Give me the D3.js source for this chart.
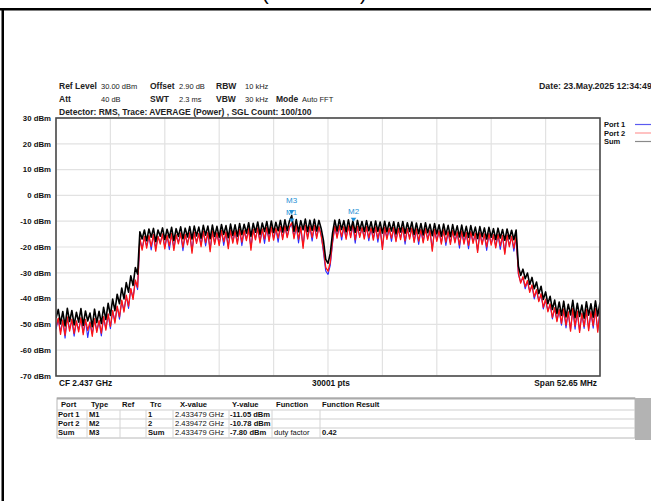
<!DOCTYPE html>
<html lang="en">
<head>
<meta charset="UTF-8">
<title>Spectrum</title>
<script src="https://d3js.org/d3.v7.min.js"></script>
<style>
  body { margin: 0; background: #fff; font-family: "Liberation Sans", Arial, sans-serif; }
  svg { display: block; }
  .grid line { stroke: #e2e2e2; stroke-width: 1.2; }
  .axlbl { font-size: 7.8px; font-weight: bold; fill: #111; }
  .hdr { font-size: 7.5px; fill: #222; }
  .hdr .b { font-size: 8.5px; }
  .b { font-weight: bold; }
  .tbl { font-size: 7.6px; fill: #111; }
  .mk { fill: #1f8fd6; font-size: 8px; }
</style>
</head>
<body>
<svg id="chart" width="651" height="501"></svg>
<script>
// sweep settings
const centerGHz = 2.437;
const spanGHz = 0.05265;
const yTicks = [30, 20, 10, 0, -10, -20, -30, -40, -50, -60, -70];

// traces (dBm), evenly spread over the span
const port1 = [
  -51.9, -48.0, -52.8, -48.6, -55.3, -47.5, -51.8, -48.4, -54.6, -48.9, -52.1, -47.8, -53.2, -48.5, -55.1, -49.3, -53.7, -48.2, -52.4, -48.8,
  -54.5, -47.3, -51.6, -46.2, -51.7, -44.9, -48.8, -43.2, -48.0, -40.9, -44.6, -39.0, -43.8, -36.3, -39.7, -33.1, -36.5, -16.9, -20.6, -16.2,
  -19.6, -15.8, -21.1, -15.4, -20.5, -16.1, -18.3, -15.2, -19.9, -15.7, -21.0, -15.0, -20.4, -15.5, -18.1, -14.8, -21.4, -15.3, -18.6, -14.7,
  -21.5, -14.5, -18.0, -15.0, -19.1, -14.2, -19.6, -14.6, -20.9, -14.1, -18.4, -14.7, -18.8, -13.9, -19.4, -14.4, -19.8, -13.7, -17.9, -14.0,
  -18.2, -13.5, -19.5, -13.9, -16.9, -13.2, -20.3, -13.4, -16.8, -12.9, -17.7, -13.3, -18.6, -12.7, -17.1, -12.5, -16.7, -13.0, -18.1, -12.3,
  -16.5, -12.1, -15.9, -12.5, -11.05, -16.2, -12.0, -18.4, -12.4, -19.7, -11.8, -16.3, -12.2, -17.7, -11.9, -16.1, -12.3, -15.3,
  -22.2, -29.3, -30.6, -27.1, -18.6,
  -12.2, -16.0, -12.0, -17.3, -12.4, -16.4, -12.1, -15.9, -11.6, -18.5, -12.3, -15.8, -12.7, -16.3, -12.4, -17.6, -12.8,
  -16.7, -12.5, -18.1, -12.9, -20.2, -12.6, -16.4, -13.0, -17.8, -12.8, -17.3, -13.1, -16.5, -12.7, -18.9, -13.2, -16.3, -12.9, -17.6, -13.3,
  -19.0, -13.5, -17.8, -13.2, -16.8, -13.8, -20.8, -13.5, -17.2, -14.0, -18.3, -13.7, -19.4, -14.2, -18.4, -13.9, -17.8, -14.4, -20.5, -14.1,
  -18.3, -14.6, -20.7, -14.3, -18.0, -14.9, -21.5, -14.7, -18.5, -15.2, -21.3, -15.0, -18.7, -15.5, -19.7, -15.3, -20.9, -15.8, -22.2, -15.6, -19.3, -16.1, -21.6, -16.0,
  -30.6, -33.6, -31.9, -36.2, -33.4, -37.1, -35.1, -40.1, -36.9, -40.8, -38.5, -44.0, -40.6, -44.7, -42.4, -47.9, -43.9, -48.4, -44.6, -50.3,
  -44.4, -51.4, -45.5, -52.0, -44.2, -51.9, -45.3, -52.5, -46.0, -51.6, -44.7, -51.8, -45.4, -51.5, -44.3, -52.4, -45.0
];
const port2 = [
  -50.8, -47.6, -53.9, -48.3, -54.2, -47.1, -52.6, -48.0, -53.5, -48.6, -52.9, -47.4, -54.0, -48.1, -52.3, -49.0, -54.6, -47.8, -53.1, -48.4,
  -53.4, -47.0, -52.2, -45.9, -50.8, -44.6, -49.5, -42.9, -47.1, -40.6, -45.2, -38.7, -42.9, -36.0, -40.3, -32.8, -35.6, -16.6, -21.2, -15.9,
  -20.4, -15.5, -19.8, -15.1, -21.6, -15.8, -18.9, -14.9, -20.7, -15.4, -19.6, -14.7, -21.3, -15.2, -18.8, -14.5, -20.1, -15.0, -19.2, -14.4,
  -22.4, -14.2, -18.6, -14.7, -19.9, -13.9, -18.3, -14.3, -21.8, -13.8, -19.0, -14.4, -19.5, -13.6, -17.9, -14.1, -20.6, -13.4, -18.5, -13.7,
  -18.9, -13.2, -18.1, -13.6, -17.5, -12.9, -21.2, -13.1, -17.2, -12.6, -18.4, -13.0, -16.9, -12.4, -17.8, -12.2, -17.3, -12.7, -16.6, -12.0,
  -17.1, -11.8, -16.4, -12.2, -10.6, -16.8, -11.7, -17.0, -12.1, -20.5, -11.5, -16.9, -11.9, -16.3, -11.6, -16.7, -12.0, -15.8,
  -21.0, -27.9, -29.4, -26.0, -17.8,
  -11.9, -16.6, -11.7, -16.0, -12.1, -17.0, -11.8, -16.4, -10.8, -17.2, -12.0, -16.3, -12.4, -16.9, -12.1, -16.5, -12.5,
  -17.3, -12.2, -16.8, -12.6, -20.9, -12.3, -17.0, -12.7, -16.6, -12.5, -17.9, -12.8, -17.1, -12.4, -17.6, -12.9, -16.9, -12.6, -18.2, -13.0,
  -17.7, -13.2, -18.4, -12.9, -17.4, -13.5, -21.6, -13.2, -17.8, -13.7, -18.9, -13.4, -18.1, -13.9, -19.0, -13.6, -18.4, -14.1, -19.2, -13.8,
  -18.9, -14.3, -19.4, -14.0, -18.6, -14.6, -22.1, -14.4, -19.1, -14.9, -20.0, -14.7, -19.3, -15.2, -20.3, -15.0, -19.6, -15.5, -22.8, -15.3, -19.9, -15.8, -20.4, -15.7,
  -30.2, -34.0, -31.5, -35.4, -33.0, -37.6, -34.7, -39.3, -36.5, -41.2, -38.1, -43.4, -40.2, -45.1, -42.0, -47.3, -43.5, -48.9, -44.2, -49.6,
  -44.0, -50.3, -45.1, -52.6, -43.8, -50.7, -44.9, -53.1, -45.6, -50.8, -44.3, -52.4, -45.0, -50.5, -43.9, -53.0, -44.6
];
const sumTrace = [
  -47.5, -44.2, -49.8, -45.0, -50.6, -43.8, -48.9, -44.6, -50.2, -45.3, -49.1, -43.9, -50.4, -44.8, -48.7, -45.6, -50.9, -44.1, -49.3, -44.9,
  -49.6, -43.4, -48.1, -41.8, -46.5, -40.2, -44.7, -38.3, -42.0, -35.9, -40.1, -33.8, -37.5, -31.2, -34.9, -28.0, -30.5, -14.1, -16.9, -13.4,
  -17.6, -13.0, -16.2, -12.8, -17.9, -13.4, -15.8, -12.6, -17.1, -13.1, -16.4, -12.4, -17.5, -12.9, -15.9, -12.2, -16.8, -12.7, -16.1, -12.1,
  -16.9, -11.9, -15.7, -12.3, -16.6, -11.6, -15.4, -11.9, -16.8, -11.5, -15.9, -12.0, -16.2, -11.3, -15.1, -11.7, -16.4, -11.1, -15.5, -11.4,
  -15.8, -10.9, -15.2, -11.2, -14.6, -10.6, -15.9, -10.8, -14.3, -10.3, -15.1, -10.7, -14.0, -10.1, -14.8, -9.9, -14.4, -10.4, -13.7, -9.7,
  -14.2, -9.5, -13.6, -9.9, -7.8, -13.9, -9.4, -14.1, -9.8, -13.3, -9.2, -14.0, -9.6, -13.5, -9.3, -13.8, -9.7, -12.9,
  -17.5, -24.8, -26.3, -22.5, -14.6,
  -9.6, -13.8, -9.4, -13.2, -9.8, -14.1, -9.5, -13.6, -9.9, -14.3, -9.7, -13.5, -10.1, -14.0, -9.8, -13.7, -10.2,
  -14.4, -9.9, -13.9, -10.3, -14.6, -10.0, -14.1, -10.4, -13.8, -10.2, -14.9, -10.5, -14.2, -10.1, -14.7, -10.6, -14.0, -10.3, -15.1, -10.7,
  -14.8, -10.9, -15.3, -10.6, -14.5, -11.2, -15.6, -10.9, -14.9, -11.4, -15.8, -11.1, -15.2, -11.6, -16.0, -11.3, -15.4, -11.8, -16.1, -11.5,
  -15.9, -12.0, -16.3, -11.7, -15.6, -12.3, -16.7, -12.1, -16.0, -12.6, -16.9, -12.4, -16.2, -12.9, -17.1, -12.7, -16.5, -13.2, -17.4, -13.0, -16.8, -13.5, -17.2, -13.4,
  -27.4, -31.0, -28.6, -32.3, -30.1, -34.5, -31.8, -36.2, -33.6, -38.1, -35.2, -40.3, -37.4, -42.0, -39.1, -44.2, -40.6, -45.8, -41.3, -46.5,
  -41.0, -47.1, -42.2, -46.3, -40.7, -47.4, -41.8, -46.9, -42.5, -47.6, -41.2, -46.4, -42.0, -47.2, -40.9, -46.7, -41.5
];
const traceNames = ["Port 1", "Port 2", "Sum"];
const traceColors = ["#2a2aff", "#ff1414", "#000000"];
const traceWidths = [1.1, 1.3, 1.6];
const legendColors = ["#5a5af0", "#ff9a9a", "#8a8a8a"];

// markers
const markerNames = ["M1", "M2", "M3"];
const markerTrace = ["Port 1", "Port 2", "Sum"];
const markerTrc = ["1", "2", "Sum"];
const markerGHz = [2.433479, 2.439472, 2.433479];
const markerDbm = [-11.05, -10.78, -7.80];
const markerFunc = ["", "", "duty factor"];
const markerResult = ["", "", "0.42"];

const tableHead = ["Port", "Type", "Ref", "Trc", "X-value", "Y-value", "Function", "Function Result"];

const svg = d3.select("#chart");
const plotL = 56, plotR = 600, plotT = 118, plotB = 376;

const x = d3.scaleLinear()
  .domain([centerGHz - spanGHz / 2, centerGHz + spanGHz / 2])
  .range([plotL, plotR]);
const y = d3.scaleLinear().domain([-70, 30]).range([plotB, plotT]);

// page frame
svg.append("rect").attr("width", 651).attr("height", 501).attr("fill", "#fff");
svg.append("rect").attr("x", 0).attr("y", 8).attr("width", 651).attr("height", 2.5).attr("fill", "#000");
svg.append("rect").attr("x", 1.5).attr("y", 8).attr("width", 2.5).attr("height", 493).attr("fill", "#000");
svg.append("text").attr("x", 262).attr("y", 0).attr("font-size", 20).text("(");
svg.append("text").attr("x", 360).attr("y", 0).attr("font-size", 20).text(")");

// header lines
const hdr = svg.append("g").attr("class", "hdr");
function hdrPair(px, py, bold, val, vx) {
  hdr.append("text").attr("class", "b").attr("x", px).attr("y", py).text(bold);
  if (val) hdr.append("text").attr("x", vx).attr("y", py).text(val);
}
hdrPair(59, 89, "Ref Level", "30.00 dBm", 101);
hdrPair(150, 89, "Offset", "2.90 dB", 179);
hdrPair(216, 89, "RBW", "10 kHz", 245);
hdrPair(59, 102, "Att", "40 dB", 101);
hdrPair(150, 102, "SWT", "2.3 ms", 179);
hdrPair(216, 102, "VBW", "30 kHz", 245);
hdrPair(276, 102, "Mode", "Auto FFT", 302);
hdrPair(59, 115, "Detector: RMS, Trace: AVERAGE (Power) , SGL Count: 100/100", "", 0);
hdr.append("text").attr("class", "b").attr("x", 539).attr("y", 89).style("font-size", "8.8px")
  .text("Date: 23.May.2025 12:34:49");

// grid
const xDivs = d3.range(11).map(k => x.domain()[0] + k * spanGHz / 10);
const grid = svg.append("g").attr("class", "grid");
grid.selectAll(".v").data(xDivs).join("line")
  .attr("x1", d => x(d)).attr("x2", d => x(d)).attr("y1", plotT).attr("y2", plotB);
grid.selectAll(".h").data(yTicks).join("line")
  .attr("x1", plotL).attr("x2", plotR).attr("y1", d => y(d)).attr("y2", d => y(d));

// y labels
svg.append("g").selectAll("text").data(yTicks).join("text")
  .attr("class", "axlbl").attr("x", 51).attr("y", d => y(d) + 2.8)
  .attr("text-anchor", "end").text(d => d + " dBm");

// traces
svg.append("clipPath").attr("id", "clip").append("rect")
  .attr("x", plotL).attr("y", plotT).attr("width", plotR - plotL).attr("height", plotB - plotT);
const traces = [port1, port2, sumTrace];
const line = d3.line()
  .x((d, i, arr) => x(x.domain()[0] + i * spanGHz / (arr.length - 1)))
  .y(d => y(d));
svg.append("g").attr("clip-path", "url(#clip)")
  .selectAll("path").data(traces).join("path")
  .attr("d", d => line(d))
  .attr("fill", "none")
  .attr("stroke", (d, i) => traceColors[i])
  .attr("stroke-width", (d, i) => traceWidths[i])
  .attr("stroke-linejoin", "round");

// plot frame
svg.append("rect").attr("x", plotL).attr("y", plotT).attr("width", plotR - plotL).attr("height", plotB - plotT)
  .attr("fill", "none").attr("stroke", "#4a4a4a").attr("stroke-width", 1.6);

// legend
const lg = svg.append("g");
traceNames.forEach((n, i) => {
  const ly = 124.5 + i * 8.5;
  lg.append("text").attr("class", "axlbl").attr("x", 604).attr("y", ly + 2.6).style("font-size", "7.5px").text(n);
  lg.append("line").attr("x1", 635).attr("x2", 651).attr("y1", ly).attr("y2", ly)
    .attr("stroke", legendColors[i]).attr("stroke-width", 1.2);
});

// markers
const mk = markerNames.map((n, i) => ({ name: n, x: x(markerGHz[i]), y: y(markerDbm[i]) }));
mk.forEach(m => { m.ly = m.y - 9; });
mk.forEach(a => mk.forEach(b => {
  if (a !== b && Math.abs(a.x - b.x) < 14 && a.ly < b.ly && b.ly - a.ly < 12) a.ly = b.ly - 12;
}));
const mg = svg.append("g");
mg.selectAll("path").data(mk).join("path")
  .attr("d", d => `M${d.x - 2.8},${d.y - 5.5}L${d.x + 2.8},${d.y - 5.5}L${d.x},${d.y - 1.5}Z`)
  .attr("fill", "#1f8fd6");
mg.selectAll("text").data(mk).join("text")
  .attr("class", "mk").attr("x", d => d.x).attr("y", d => d.ly)
  .attr("text-anchor", "middle").text(d => d.name);

// bottom labels
svg.append("text").attr("class", "axlbl").attr("x", 59).attr("y", 386).style("font-size", "8.3px")
  .text("CF " + centerGHz + " GHz");
svg.append("text").attr("class", "axlbl").attr("x", 331).attr("y", 386).attr("text-anchor", "middle")
  .style("font-size", "8.3px").text("30001 pts");
svg.append("text").attr("class", "axlbl").attr("x", 597).attr("y", 386).attr("text-anchor", "end")
  .style("font-size", "8.3px").text("Span " + (spanGHz * 1000).toFixed(2) + " MHz");

// marker table
const rows = markerNames.map((n, i) => [
  markerTrace[i], n, "", markerTrc[i],
  markerGHz[i].toFixed(6) + " GHz", markerDbm[i].toFixed(2) + " dBm",
  markerFunc[i], markerResult[i]
]);
const colEdges = [57, 87, 120, 146, 173, 229, 272, 320, 635];
const headX = [61, 91, 122, 150, 180, 232, 276, 322];
const cellX = [58, 89, 122, 148, 175, 230, 274, 322];
const boldCol = [true, true, false, true, false, true, false, true];
const rowEdges = [398, 410, 419, 428, 438];
const tb = svg.append("g");
tb.append("rect").attr("x", 57).attr("y", 398).attr("width", 578).attr("height", 40)
  .attr("fill", "#fff").attr("stroke", "#b8b8b8").attr("stroke-width", 1);
tb.append("line").attr("x1", 57).attr("x2", 635).attr("y1", 398.5).attr("y2", 398.5)
  .attr("stroke", "#aaa").attr("stroke-width", 2);
tb.selectAll(".r").data(rowEdges.slice(1, -1)).join("line")
  .attr("x1", 57).attr("x2", 635).attr("y1", d => d).attr("y2", d => d)
  .attr("stroke", "#cfcfcf").attr("stroke-width", 1);
tb.selectAll(".c").data(colEdges.slice(1, -1)).join("line")
  .attr("x1", d => d).attr("x2", d => d).attr("y1", 410).attr("y2", 438)
  .attr("stroke", "#d4d4d4").attr("stroke-width", 1);
tb.append("rect").attr("x", 635).attr("y", 398).attr("width", 16).attr("height", 42).attr("fill", "#b3b3b3");
tableHead.forEach((h, j) => {
  tb.append("text").attr("class", "tbl b").attr("x", headX[j]).attr("y", 407).text(h);
});
rows.forEach((r, i) => {
  r.forEach((c, j) => {
    if (!c) return;
    tb.append("text").attr("class", boldCol[j] ? "tbl b" : "tbl")
      .attr("x", cellX[j]).attr("y", rowEdges[i + 1] + 6.8).text(c);
  });
});
</script>
</body>
</html>
